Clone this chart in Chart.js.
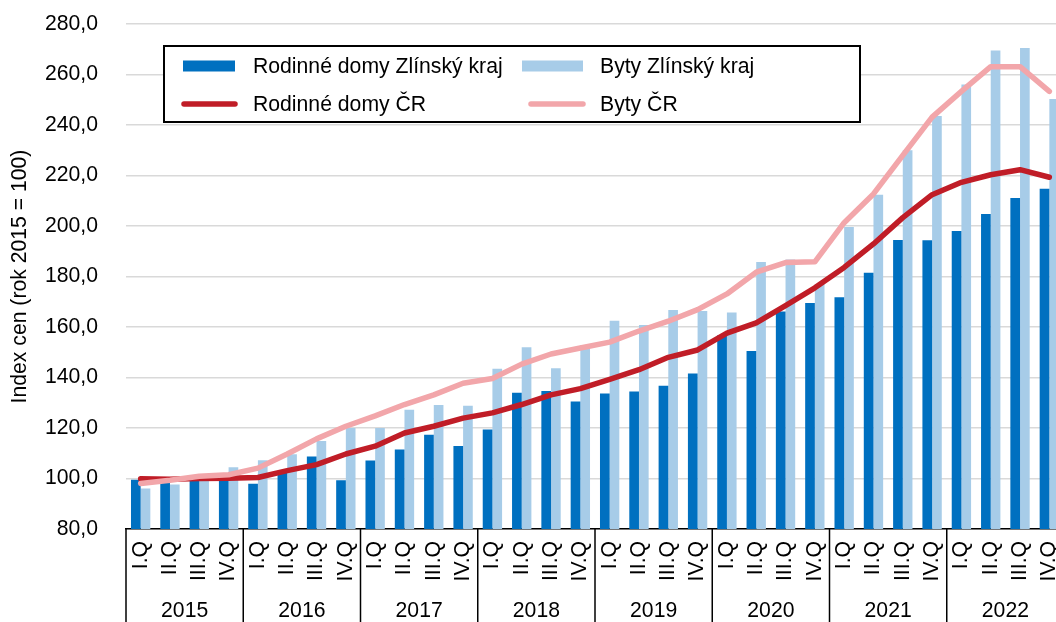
<!DOCTYPE html>
<html>
<head>
<meta charset="utf-8">
<script src="https://cdn.jsdelivr.net/npm/chart.js@4"></script>
<style>
  html, body { margin: 0; padding: 0; background: #fff; overflow: hidden; }
  #wrap { width: 1056px; height: 622px; overflow: hidden; }
</style>
</head>
<body>
<div id="wrap"><canvas id="c" width="1066" height="622"></canvas></div>
<script>
// data
var years = ['2015', '2016', '2017', '2018', '2019', '2020', '2021', '2022'];
var quarters = ['I.Q', 'II.Q', 'III.Q', 'IV.Q'];

var domyZlin = [
  99.5, 99.0, 99.5, 100.4,
  97.9, 102.5, 108.7, 99.3,
  107.1, 111.5, 117.3, 112.9,
  119.4, 134.0, 134.7, 130.5,
  133.7, 134.5, 136.7, 141.6,
  156.7, 150.5, 166.1, 169.5,
  171.8, 181.5, 194.5, 194.4,
  198.0, 204.8, 211.1, 214.8
];
var bytyZlin = [
  96.0, 97.6, 99.8, 104.5,
  107.2, 109.6, 114.9, 120.0,
  120.0, 127.2, 129.1, 128.8,
  143.5, 152.0, 143.7, 152.9,
  162.5, 160.8, 166.7, 166.3,
  165.7, 185.7, 186.7, 177.0,
  199.6, 212.4, 230.0, 243.6,
  256.0, 269.5, 270.5, 250.3
];
var domyCR = [
  99.9, 99.7, 100.0, 100.1,
  100.4, 103.1, 105.5, 109.7,
  112.8, 118.0, 120.7, 123.9,
  126.0, 129.3, 133.1, 135.6,
  139.3, 143.1, 148.0, 150.9,
  157.6, 161.6, 168.5, 175.5,
  183.6, 192.9, 203.3, 212.4,
  217.3, 220.3, 222.3, 219.3
];
var bytyCR = [
  98.0, 99.3, 100.9, 101.5,
  104.1, 109.7, 115.7, 120.7,
  124.8, 129.3, 133.1, 137.7,
  139.6, 145.3, 149.3, 151.7,
  154.0, 158.4, 162.3, 166.9,
  173.1, 181.7, 185.5, 185.8,
  201.3, 212.7, 228.0, 243.1,
  253.3, 263.1, 263.1, 253.3
];

var labels = [];
years.forEach(function (y) {
  quarters.forEach(function (q) { labels.push(y + ' ' + q); });
});

var FAMILY = '"Liberation Sans", Arial, sans-serif';
var FSIZE = 21.2;
var FONT = FSIZE + 'px ' + FAMILY;

Chart.defaults.font.family = FAMILY;
Chart.defaults.font.size = FSIZE;
Chart.defaults.color = '#000';

// quarter labels, year boxes and the legend box
var extras = {
  id: 'extras',
  afterDraw: function (chart) {
    var ctx = chart.ctx;
    var xs = chart.scales.x;
    var area = chart.chartArea;
    var bottom = chart.height;
    ctx.save();
    ctx.fillStyle = '#000';
    ctx.strokeStyle = '#000';
    ctx.font = FONT;

    // quarter labels, rotated
    for (var i = 0; i < labels.length; i++) {
      var px = xs.getPixelForValue(i);
      ctx.save();
      ctx.translate(px, 541);
      ctx.rotate(-Math.PI / 2);
      ctx.textAlign = 'right';
      ctx.textBaseline = 'middle';
      ctx.fillText(labels[i].split(' ')[1], 0, 0);
      ctx.restore();
    }

    // year separators and year labels
    var half = (xs.getPixelForValue(1) - xs.getPixelForValue(0)) / 2;
    ctx.lineWidth = 1.5;
    ctx.textAlign = 'center';
    ctx.textBaseline = 'middle';
    for (var k = 0; k <= years.length; k++) {
      var sx = k < years.length ? xs.getPixelForValue(k * 4) - half
                                : xs.getPixelForValue(k * 4 - 1) + half;
      ctx.beginPath();
      ctx.moveTo(sx, area.bottom);
      ctx.lineTo(sx, bottom);
      ctx.stroke();
      if (k < years.length) {
        var cx = (xs.getPixelForValue(k * 4) + xs.getPixelForValue(k * 4 + 3)) / 2;
        ctx.fillText(years[k], cx, 611);
      }
    }

    // legend
    var ds = chart.data.datasets;
    ctx.fillStyle = '#fff';
    ctx.fillRect(164, 46, 696, 76);
    ctx.lineWidth = 2;
    ctx.strokeRect(164, 46, 696, 76);
    var spots = [
      { mx: 183, mw: 52, tx: 253, y: 66 },
      { mx: 522, mw: 61, tx: 600, y: 66 },
      { mx: 184, mw: 51, tx: 253, y: 104 },
      { mx: 531, mw: 52, tx: 600, y: 104 }
    ];
    ctx.textAlign = 'left';
    for (var j = 0; j < ds.length; j++) {
      var s = spots[j];
      if (ds[j].type === 'bar') {
        ctx.fillStyle = ds[j].backgroundColor;
        ctx.fillRect(s.mx, s.y - 5.5, s.mw, 11);
      } else {
        ctx.strokeStyle = ds[j].borderColor;
        ctx.lineWidth = 5.5;
        ctx.lineCap = 'round';
        ctx.beginPath();
        ctx.moveTo(s.mx, s.y);
        ctx.lineTo(s.mx + s.mw, s.y);
        ctx.stroke();
      }
      ctx.fillStyle = '#000';
      ctx.fillText(ds[j].label, s.tx, s.y + 1);
    }
    ctx.restore();
  }
};

new Chart(document.getElementById('c'), {
  type: 'bar',
  data: {
    labels: labels,
    datasets: [
      { type: 'bar', label: 'Rodinné domy Zlínský kraj', data: domyZlin,
        backgroundColor: '#0070C0', order: 2 },
      { type: 'bar', label: 'Byty Zlínský kraj', data: bytyZlin,
        backgroundColor: '#A7CCE8', order: 3 },
      { type: 'line', label: 'Rodinné domy ČR', data: domyCR,
        borderColor: '#C01D27', borderWidth: 5.5, pointRadius: 0, tension: 0,
        borderJoinStyle: 'round', borderCapStyle: 'round', order: 1 },
      { type: 'line', label: 'Byty ČR', data: bytyCR,
        borderColor: '#F2A6AA', borderWidth: 5.5, pointRadius: 0, tension: 0,
        borderJoinStyle: 'round', borderCapStyle: 'round', order: 0 }
    ]
  },
  options: {
    responsive: false,
    animation: false,
    layout: { padding: { top: 24, right: 2, left: 0, bottom: 0 } },
    datasets: { bar: { categoryPercentage: 0.66, barPercentage: 1 } },
    plugins: { legend: { display: false }, tooltip: { enabled: false } },
    scales: {
      x: {
        grid: { display: false },
        border: { display: true, color: '#000', width: 1.5 },
        ticks: { display: false },
        afterFit: function (s) { s.height = 93; }
      },
      y: {
        min: 80, max: 280,
        grid: { color: '#D9D9D9', lineWidth: 1.5, drawTicks: true, tickLength: 25, tickColor: 'rgba(0,0,0,0)' },
        border: { display: false },
        ticks: {
          stepSize: 20, padding: 3,
          callback: function (v) { return v.toFixed(1).replace('.', ','); }
        },
        title: { display: true, text: 'Index cen (rok 2015 = 100)', padding: { top: 7, bottom: 4 } },
        afterFit: function (s) { s.width = 126; }
      }
    }
  },
  plugins: [extras]
});
</script>
</body>
</html>
